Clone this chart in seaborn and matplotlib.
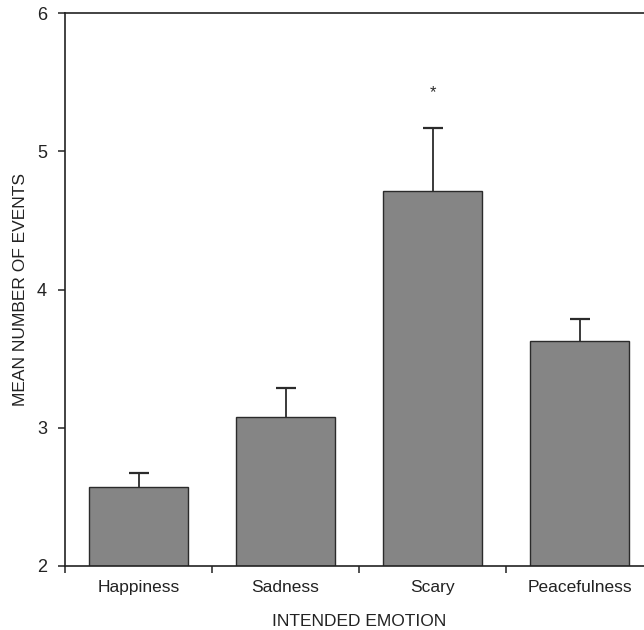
import numpy as np
import matplotlib
matplotlib.use("Agg")
import matplotlib.pyplot as plt
import seaborn as sns
import pandas as pd

emotions = ["Happiness", "Sadness", "Scary", "Peacefulness"]
mean_events = [2.57, 3.08, 4.71, 3.63]
sem_events = [0.10, 0.21, 0.46, 0.16]
marked = ["Scary"]

sns.set_style("ticks")
plt.rcParams["font.family"] = ["Liberation Sans", "DejaVu Sans"]

df = pd.DataFrame({"emotion": emotions, "mean": mean_events, "sem": sem_events})
df["upper"] = df["mean"] + df["sem"]

fig = plt.figure(figsize=(6.44, 6.3), dpi=100)
ax = fig.add_axes([65 / 644, 1 - 566 / 630, 588 / 644, 553 / 630])

sns.barplot(data=df, x="emotion", y="mean", color="#858585", saturation=1,
            width=0.667, edgecolor="#2b2b2b", linewidth=1.0, ax=ax)

# upper half of each error bar only, cap on top
xs = np.arange(len(emotions))
ax.errorbar(xs, df["mean"], yerr=[np.zeros(len(emotions)), df["sem"]],
            fmt="none", ecolor="#2b2b2b", elinewidth=1.3, capsize=0)
ax.plot(xs, df["upper"], ls="none", marker="_", ms=14, mew=1.6, color="#2b2b2b")

for e in marked:
    i = emotions.index(e)
    ax.text(i, mean_events[i] + sem_events[i] + 0.2, "*", ha="center", va="bottom",
            fontsize=12, color="#2b2b2b")

ax.set_ylim(2, 6)
ax.set_xlim(-0.5, len(emotions) - 0.5)
ax.set_yticks([2, 3, 4, 5, 6])
ax.set_xticks(xs)
ax.set_xticklabels(emotions)
ax.set_xticks(np.arange(len(emotions) + 1) - 0.5, minor=True)
ax.tick_params(axis="x", which="major", length=0, pad=10, labelsize=12.5, colors="#222222")
ax.tick_params(axis="x", which="minor", length=5, width=1.1, color="#222222")
ax.tick_params(axis="y", length=5, width=1.1, pad=8, labelsize=13, colors="#222222")

for s in ax.spines.values():
    s.set_visible(True)
    s.set_linewidth(1.2)
    s.set_color("#222222")

ax.set_xlabel("INTENDED EMOTION", fontsize=12.5, color="#222222", labelpad=14)
ax.set_ylabel("MEAN NUMBER OF EVENTS", fontsize=12.5, color="#222222", labelpad=6)

fig.savefig("out.png", dpi=100)
